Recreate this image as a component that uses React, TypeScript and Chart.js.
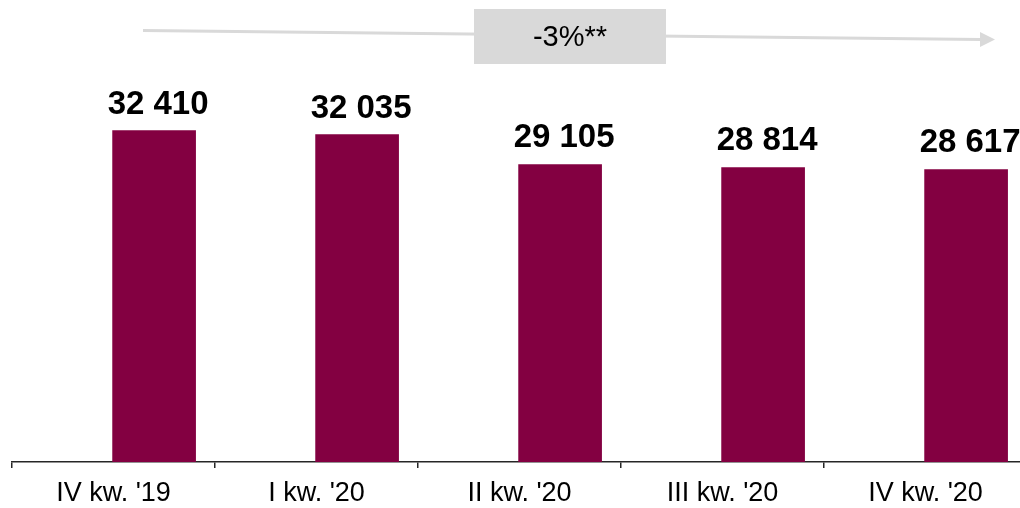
import React, { useEffect, useRef } from "react";
import { Chart, registerables } from "chart.js";

Chart.register(...registerables);

// Quarterly values
const categories: string[] = ["IV kw. '19", "I kw. '20", "II kw. '20", "III kw. '20", "IV kw. '20"];
const values: number[] = [32410, 32035, 29105, 28814, 28617];
const valueLabels: string[] = ["32 410", "32 035", "29 105", "28 814", "28 617"];
const trendLabel = "-3%**";

const BAR_COLOR = "#830041";
const AXIS_COLOR = "#262626";
const TREND_COLOR = "#d9d9d9";
const FONT = "'Liberation Sans', Arial, sans-serif";

// Value labels above each bar
const valueLabelPlugin = {
  id: "valueLabels",
  afterDatasetsDraw(chart: any) {
    const ctx = chart.ctx;
    const meta = chart.getDatasetMeta(0);
    ctx.save();
    ctx.font = `bold 33px ${FONT}`;
    ctx.fillStyle = "#000";
    ctx.textAlign = "center";
    ctx.textBaseline = "alphabetic";
    meta.data.forEach((bar: any, i: number) => {
      ctx.fillText(valueLabels[i], bar.x + 4, bar.y - 17);
    });
    ctx.restore();
  },
};

// Trend arrow with boxed percentage across the top
const trendPlugin = {
  id: "trendArrow",
  afterDraw(chart: any) {
    const ctx = chart.ctx;
    const { left } = chart.chartArea;
    const x0 = left + 131;
    const y0 = 30.5;
    const x1 = left + 969;
    const y1 = 39.5;
    const tip = left + 983;
    ctx.save();
    ctx.strokeStyle = TREND_COLOR;
    ctx.lineWidth = 3;
    ctx.beginPath();
    ctx.moveTo(x0, y0);
    ctx.lineTo(x1, y1);
    ctx.stroke();
    ctx.fillStyle = TREND_COLOR;
    ctx.beginPath();
    ctx.moveTo(x1 - 1, y1 - 7.5);
    ctx.lineTo(tip, y1);
    ctx.lineTo(x1 - 1, y1 + 7.5);
    ctx.closePath();
    ctx.fill();

    const bx = left + 462;
    const by = 9;
    const bw = 192;
    const bh = 55;
    ctx.fillStyle = TREND_COLOR;
    ctx.fillRect(bx, by, bw, bh);
    ctx.fillStyle = "#000";
    ctx.font = `29px ${FONT}`;
    ctx.textAlign = "center";
    ctx.textBaseline = "middle";
    ctx.fillText(trendLabel, bx + bw / 2, by + bh / 2 + 1);
    ctx.restore();
  },
};

export default function App() {
  const canvasRef = useRef<HTMLCanvasElement | null>(null);

  useEffect(() => {
    const canvas = canvasRef.current;
    if (!canvas) return;
    const chart = new Chart(canvas, {
      type: "bar",
      data: {
        labels: categories,
        datasets: [
          {
            data: values.map((v, i) => ({ x: i, y: v })),
            xAxisID: "xb",
            backgroundColor: BAR_COLOR,
            borderWidth: 0,
            barThickness: 83,
          },
        ],
      },
      options: {
        responsive: false,
        animation: false,
        events: [],
        layout: { padding: { left: 12, right: 13, top: 2, bottom: 0 } },
        plugins: {
          legend: { display: false },
          tooltip: { enabled: false },
        },
        scales: {
          x: {
            type: "category",
            position: "bottom",
            offset: true,
            grid: {
              offset: true,
              drawOnChartArea: false,
              drawTicks: true,
              tickLength: 6,
              color: AXIS_COLOR,
              lineWidth: 1.5,
            },
            border: { display: true, color: AXIS_COLOR, width: 1.5 },
            ticks: {
              color: "#000",
              font: { family: FONT, size: 27 },
              padding: 9,
              maxRotation: 0,
              autoSkip: false,
            },
            afterFit: (scale: any) => {
              scale.height = 46;
            },
          },
          xb: {
            type: "linear",
            display: false,
            offset: false,
            min: -0.7,
            max: 4.3,
          },
          y: {
            display: false,
            min: 0,
            max: 45000,
          },
        },
      },
      plugins: [valueLabelPlugin, trendPlugin],
    });
    return () => chart.destroy();
  }, []);

  return (
    <div
      style={{
        position: "fixed",
        left: 0,
        top: 0,
        width: 1020,
        height: 508,
        overflow: "hidden",
        background: "#fff",
      }}
    >
      <canvas ref={canvasRef} width={1040} height={508} style={{ width: 1040, height: 508, display: "block" }} />
    </div>
  );
}
